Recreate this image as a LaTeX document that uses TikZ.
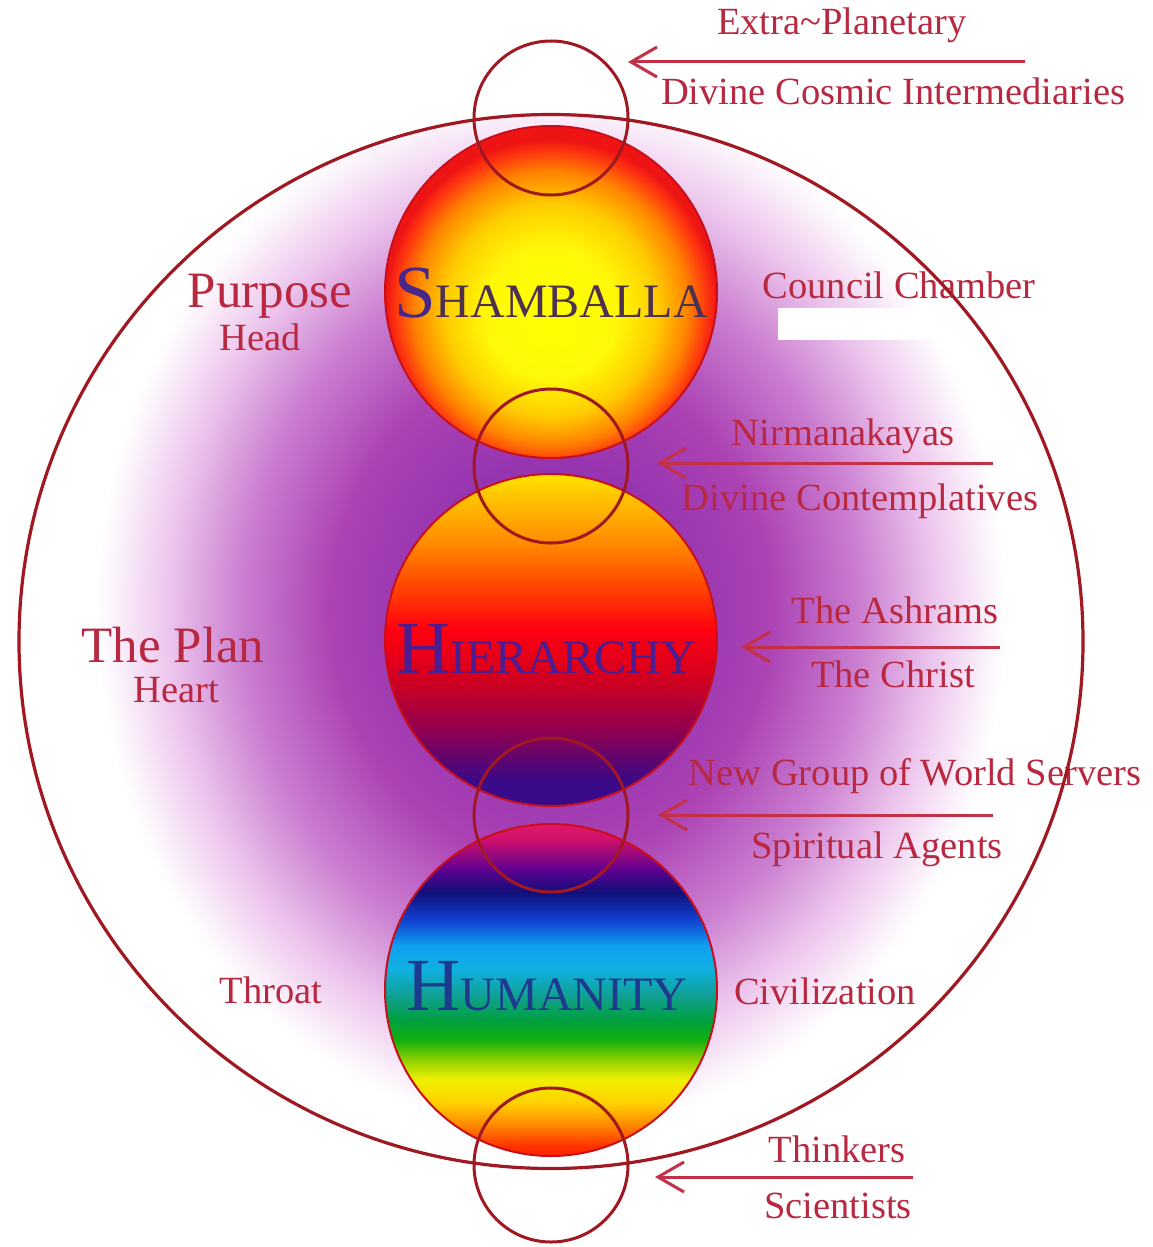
\documentclass[tikz,border=0pt]{standalone}
\usepackage{fontspec}
\setmainfont{Liberation Serif}
\usetikzlibrary{arrows.meta}

\definecolor{ringcol}{HTML}{A01822}
\definecolor{txtcol}{HTML}{B82840}
\definecolor{arrcol}{HTML}{C43048}
\definecolor{edgecol}{HTML}{C8101C}
\definecolor{shS}{HTML}{47288A}
\definecolor{shR}{HTML}{4E3050}
\definecolor{hiW}{HTML}{4A1E90}
\definecolor{huW}{HTML}{1E3A8E}
% glow
\definecolor{g0}{HTML}{8526AC}
\definecolor{g1}{HTML}{9232B0}
\definecolor{g2}{HTML}{AC42B4}
\definecolor{g3}{HTML}{CA7ED0}
\definecolor{g4}{HTML}{ECC4EC}
\definecolor{g5}{HTML}{FBF2FB}
% shamballa
\definecolor{s0}{HTML}{FFFF00}
\definecolor{s1}{HTML}{FFF808}
\definecolor{s2}{HTML}{FFCC00}
\definecolor{s3}{HTML}{FF8400}
\definecolor{s4}{HTML}{FF3410}
\definecolor{s5}{HTML}{EE1414}
% hierarchy
\definecolor{h0}{HTML}{380A8A}
\definecolor{h1}{HTML}{3A0A88}
\definecolor{h2}{HTML}{900050}
\definecolor{h3}{HTML}{D00020}
\definecolor{h4}{HTML}{FF0010}
\definecolor{h5}{HTML}{FF5000}
\definecolor{h6}{HTML}{FF9000}
\definecolor{h7}{HTML}{FFC000}
\definecolor{h8}{HTML}{FFE400}
% humanity
\definecolor{u0}{HTML}{FF2000}
\definecolor{u1}{HTML}{FF3000}
\definecolor{u2}{HTML}{FF9000}
\definecolor{u3}{HTML}{FFD000}
\definecolor{u4}{HTML}{F0F000}
\definecolor{u5}{HTML}{90D000}
\definecolor{u6}{HTML}{10B010}
\definecolor{u7}{HTML}{00A040}
\definecolor{u8}{HTML}{10A090}
\definecolor{u9}{HTML}{10B0E0}
\definecolor{u10}{HTML}{10A0F0}
\definecolor{u11}{HTML}{1040D0}
\definecolor{u12}{HTML}{10107A}
\definecolor{u13}{HTML}{600090}
\definecolor{u14}{HTML}{D0106A}
\definecolor{u15}{HTML}{E0186A}

\pgfdeclareradialshading{glowsh}{\pgfpoint{0bp}{0bp}}{color(0bp)=(g0); color(6bp)=(g1); color(12bp)=(g2); color(17bp)=(g3); color(21bp)=(g4); color(24bp)=(g5); color(25bp)=(white); color(50bp)=(white)}
\pgfdeclareradialshading{shamsh}{\pgfpoint{0bp}{-4bp}}{color(0bp)=(s0); color(10bp)=(s1); color(16bp)=(s2); color(20.5bp)=(s3); color(23.5bp)=(s4); color(25bp)=(s5); color(50bp)=(s5)}
\pgfdeclareverticalshading{hiersh}{100bp}{color(0bp)=(h0); color(25bp)=(h0); color(28.8bp)=(h1); color(36.4bp)=(h2); color(43.9bp)=(h3); color(51.5bp)=(h4); color(59.1bp)=(h5); color(65.2bp)=(h6); color(71.2bp)=(h7); color(75bp)=(h8); color(100bp)=(h8)}
\pgfdeclareverticalshading{humsh}{100bp}{color(0bp)=(u0); color(25bp)=(u0); color(26.4bp)=(u1); color(30bp)=(u2); color(33bp)=(u3); color(36.5bp)=(u4); color(39.5bp)=(u5); color(42.5bp)=(u6); color(45.5bp)=(u7); color(49bp)=(u8); color(53.1bp)=(u9); color(56.6bp)=(u10); color(60.6bp)=(u11); color(64.7bp)=(u12); color(68.2bp)=(u13); color(72.7bp)=(u14); color(75bp)=(u15); color(100bp)=(u15)}

\newcommand\mybigword[4]{{\color{#1}\fontsize{75}{75}\selectfont #2}{\color{#3}\fontsize{48}{48}\selectfont #4}}

\begin{document}
\begin{tikzpicture}[x=1pt,y=-1pt,
  ring/.style={draw=ringcol, line width=3.2pt},
  sphere/.style={circle, inner sep=0pt, minimum size=332pt, draw=edgecol, line width=2pt, shade},
  ringnode/.style={circle, inner sep=0pt, minimum size=154pt, draw=ringcol, line width=3pt},
  lbl/.style={text=txtcol, font=\fontsize{38.5}{40}\selectfont, anchor=base, inner sep=0pt},
  biglbl/.style={text=txtcol, font=\fontsize{51}{52}\selectfont, anchor=base, inner sep=0pt},
  word/.style={anchor=base, inner sep=0pt},
  arr/.style={draw=arrcol, line width=3pt, -{Straight Barb[length=26pt,width=30pt,line width=3pt]}}
]
\useasboundingbox (0,0) rectangle (1153,1247);
\fill[white] (0,0) rectangle (1153,1247);

% purple glow inside the big circle
\begin{scope}
  \clip (551,641.5) ellipse [x radius=532pt, y radius=527pt];
  \shade[shading=glowsh] (551,610) ellipse [x radius=455pt, y radius=520pt];
\end{scope}

% white patch under Council Chamber
\fill[white] (778,308) rectangle (958,340);

% labels
\node[lbl] (extra) at (842,35) {Extra\textasciitilde Planetary};
\node[lbl] (dci) at (893,104) {Divine Cosmic Intermediaries};
\node[biglbl] (purpose) at (270,307) {Purpose};
\node[lbl] (head) at (260,350) {Head};
\node[lbl] (council) at (899,298) {Council Chamber};
\node[lbl] (nirm) at (843,445) {Nirmanakayas};
\node[lbl] (dcont) at (860,510) {Divine Contemplatives};
\node[biglbl] (plan) at (173,662) {The Plan};
\node[lbl] (heart) at (176,702) {Heart};
\node[lbl] (ashrams) at (895,623) {The Ashrams};
\node[lbl] (christ) at (893,687) {The Christ};
\node[lbl] (ngws) at (915,785) {New Group of World Servers};
\node[lbl] (agents) at (877,858) {Spiritual Agents};
\node[lbl] (throat) at (271,1003) {Throat};
\node[lbl] (civil) at (825,1004) {Civilization};
\node[lbl] (think) at (837,1162) {Thinkers};
\node[lbl] (scien) at (838,1218) {Scientists};

% big circle
\draw[ring] (551,641.5) ellipse [x radius=532pt, y radius=527pt];

% spheres
\node[sphere, shading=shamsh] (shamb) at (551,292) {};
\node[sphere, shading=hiersh] (hier) at (551,640) {};
\node[sphere, shading=humsh] (hum) at (551,990) {};

\node[word] (shtext) at (551,317) {\mybigword{shS}{S}{shR}{HAMBALLA}};
\node[word] (hitext) at (546,673) {\mybigword{hiW}{H}{hiW}{IERARCHY}};
\node[word] (hutext) at (547,1010) {\mybigword{huW}{H}{huW}{UMANITY}};

% small linking circles
\node[ringnode] (c1) at (551,118) {};
\node[ringnode] (c2) at (551,466) {};
\node[ringnode] (c3) at (551,815) {};
\node[ringnode] (c4) at (551,1165) {};

% arrows
\coordinate (a1s) at (1025,62);  \coordinate (a1e) at (628,62);
\coordinate (a2s) at (993,463);  \coordinate (a2e) at (657,463);
\coordinate (a3s) at (1000,647); \coordinate (a3e) at (741,647);
\coordinate (a4s) at (993,815);  \coordinate (a4e) at (658,815);
\coordinate (a5s) at (913,1177); \coordinate (a5e) at (655,1177);
\draw[arr] (a1s) -- (a1e);
\draw[arr] (a2s) -- (a2e);
\draw[arr] (a3s) -- (a3e);
\draw[arr] (a4s) -- (a4e);
\draw[arr] (a5s) -- (a5e);
\end{tikzpicture}
\end{document}
